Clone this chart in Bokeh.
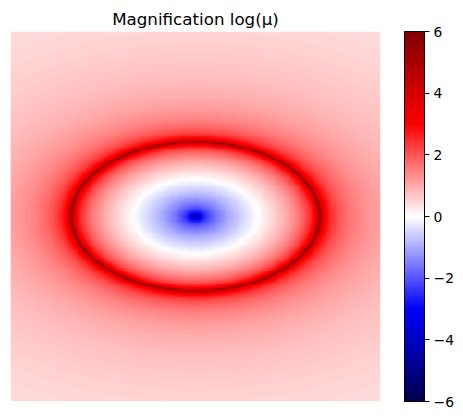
import numpy as np
from bokeh.plotting import figure
from bokeh.models import LinearColorMapper, ColorBar, FixedTicker, Range1d
from bokeh.embed import file_html
from bokeh.resources import INLINE

# --- lens model parameters (singular isothermal ellipsoid) ---
theta_E = 1.045          # Einstein radius (grid units)
axis_ratio_q = 0.6       # axis ratio of the critical curve
grid_half_width = 2.0    # half-width of the mapped field
grid_n = 200             # grid resolution
color_low = -6
color_high = 6
colorbar_ticks = [-6, -4, -2, 0, 2, 4, 6]
colorbar_labels = ["\u22126", "\u22124", "\u22122", "0", "2", "4", "6"]
title_text = "Magnification log(\u03bc)"

# seismic colormap anchors
seismic_anchors = [(0.0, 0.0, 0.3), (0.0, 0.0, 1.0), (1.0, 1.0, 1.0), (1.0, 0.0, 0.0), (0.5, 0.0, 0.0)]

def make_palette(anchors, n=256):
    pos = np.linspace(0, 1, len(anchors))
    arr = np.array(anchors)
    t = np.linspace(0, 1, n)
    cols = []
    for ti in t:
        r = np.interp(ti, pos, arr[:, 0])
        g = np.interp(ti, pos, arr[:, 1])
        b = np.interp(ti, pos, arr[:, 2])
        cols.append("#%02x%02x%02x" % (int(round(r * 255)), int(round(g * 255)), int(round(b * 255))))
    return cols

palette = make_palette(seismic_anchors)

xs = np.linspace(-grid_half_width, grid_half_width, grid_n)
X, Y = np.meshgrid(xs, xs)
xi = np.sqrt(axis_ratio_q * X ** 2 + Y ** 2 / axis_ratio_q)
kappa = theta_E / (2 * xi)
mu = 1.0 / (1.0 - 2.0 * kappa)
logmu = np.log(np.abs(mu))

mapper = LinearColorMapper(palette=palette, low=color_low, high=color_high)

p = figure(frame_width=370, frame_height=370, output_backend="svg", toolbar_location=None,
           x_range=Range1d(-grid_half_width, grid_half_width),
           y_range=Range1d(-grid_half_width, grid_half_width),
           min_border_left=10, min_border_right=30, min_border_top=31, min_border_bottom=8,
           title=title_text)
p.image(image=[logmu], x=-grid_half_width, y=-grid_half_width,
        dw=2 * grid_half_width, dh=2 * grid_half_width, color_mapper=mapper)
p.axis.visible = False
p.grid.visible = False
p.outline_line_color = None
p.title.text_font = "DejaVu Sans"
p.title.text_font_size = "16.7px"
p.title.text_font_style = "normal"
p.title.align = "center"
p.title.text_color = "black"
p.title.standoff = 5

cb = ColorBar(color_mapper=mapper, ticker=FixedTicker(ticks=colorbar_ticks),
              major_label_overrides={t: l for t, l in zip(colorbar_ticks, colorbar_labels)},
              width=20, height=370, padding=0, margin=0, location=(24, 0),
              major_tick_in=0, major_tick_out=5, major_tick_line_color="black",
              minor_tick_line_color=None,
              bar_line_color="black", bar_line_width=1,
              label_standoff=4,
              major_label_text_font="DejaVu Sans", major_label_text_font_size="13.9px",
              major_label_text_color="black",
              background_fill_alpha=0, border_line_color=None)
p.add_layout(cb, "right")

open("out.html", "w").write(file_html(p, INLINE))
